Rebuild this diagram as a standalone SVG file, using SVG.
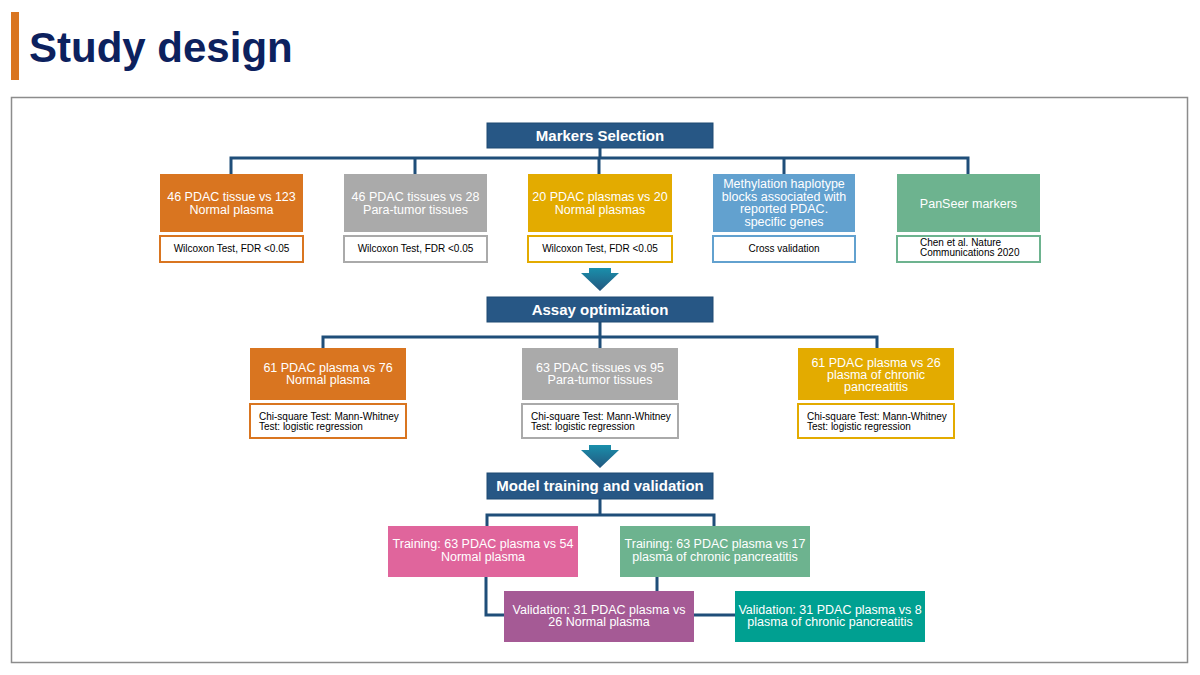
<svg xmlns="http://www.w3.org/2000/svg" width="1200" height="675" viewBox="0 0 1200 675">
<defs>
<style>
.t{font-family:"Liberation Sans",Arial,sans-serif;}
.hd{fill:#275785;stroke:#1f4a73;stroke-width:1;}
.hdt{font-family:"Liberation Sans",Arial,sans-serif;font-weight:bold;font-size:15px;fill:#fff;text-anchor:middle;}
.bt{font-family:"Liberation Sans",Arial,sans-serif;font-size:12.5px;fill:#fff;text-anchor:middle;}
.st{font-family:"Liberation Sans",Arial,sans-serif;font-size:10px;fill:#000;}
.sub{fill:#fff;stroke-width:2;}
.conn{fill:none;stroke:#1f4e79;stroke-width:3;}
</style>
<linearGradient id="ag" x1="0" y1="0" x2="0" y2="1">
<stop offset="0" stop-color="#1a8fab"/>
<stop offset="1" stop-color="#23577f"/>
</linearGradient>
</defs>
<rect width="1200" height="675" fill="#fff"/>
<g id="title">
<rect x="11" y="12" width="8" height="68" fill="#d97520"/>
<text x="29" y="62" class="t" font-size="42" font-weight="bold" fill="#0c215e">Study design</text>
</g>
<rect id="frame" x="11.5" y="97.5" width="1176" height="565" fill="none" stroke="#8c8c8c" stroke-width="1.5"/>
<g id="connectors">
<path class="conn" d="M600 148 V158 M231 174 V158 H968 V174 M415 158 V174 M599 158 V174 M784 158 V174"/>
<path class="conn" d="M600 322 V337 M323 348 V337 H877 V348 M600 337 V348"/>
<path class="conn" d="M600 499 V515 M487 526 V515 H714 V526"/>
<path class="conn" d="M486 577 V615 H504 M657 577 V591 M694 615 H735"/>
</g>
<g id="arrow1"><path d="M589 268 H611 V273 H619 L600 291 L581 273 H589 Z" fill="url(#ag)"/></g>
<g id="arrow2"><path d="M589 445 H611 V450 H619 L600 468 L581 450 H589 Z" fill="url(#ag)"/></g>
<g id="markers-selection">
<rect class="hd" x="487" y="123" width="226" height="25"/>
<text class="hdt" x="600" y="140.5">Markers Selection</text>
</g>
<g id="m1">
<rect x="160" y="174" width="143" height="58" fill="#d97520"/>
<text class="bt" x="231.5" y="200.5">46 PDAC tissue vs 123</text>
<text class="bt" x="231.5" y="213.5">Normal plasma</text>
<rect class="sub" x="160" y="236" width="143" height="26" stroke="#d97520"/>
<text class="st" x="231.5" y="252" text-anchor="middle">Wilcoxon Test, FDR &lt;0.05</text>
</g>
<g id="m2">
<rect x="344" y="174" width="143" height="58" fill="#aaaaaa"/>
<text class="bt" x="415.5" y="200.5">46 PDAC tissues vs 28</text>
<text class="bt" x="415.5" y="213.5">Para-tumor tissues</text>
<rect class="sub" x="344" y="236" width="143" height="26" stroke="#aaaaaa"/>
<text class="st" x="415.5" y="252" text-anchor="middle">Wilcoxon Test, FDR &lt;0.05</text>
</g>
<g id="m3">
<rect x="528" y="174" width="144" height="58" fill="#e3ab00"/>
<text class="bt" x="600" y="200.5">20 PDAC plasmas vs 20</text>
<text class="bt" x="600" y="213.5">Normal plasmas</text>
<rect class="sub" x="528" y="236" width="144" height="26" stroke="#e3ab00"/>
<text class="st" x="600" y="252" text-anchor="middle">Wilcoxon Test, FDR &lt;0.05</text>
</g>
<g id="m4">
<rect x="713" y="174" width="142" height="58" fill="#62a1cf"/>
<text class="bt" x="784" y="188">Methylation haplotype</text>
<text class="bt" x="784" y="200.5">blocks associated with</text>
<text class="bt" x="784" y="213">reported PDAC.</text>
<text class="bt" x="784" y="225.5">specific genes</text>
<rect class="sub" x="713" y="236" width="142" height="26" stroke="#62a1cf"/>
<text class="st" x="784" y="252" text-anchor="middle">Cross validation</text>
</g>
<g id="m5">
<rect x="897" y="174" width="143" height="58" fill="#6db38f"/>
<text class="bt" x="968.5" y="207.5">PanSeer markers</text>
<rect class="sub" x="897" y="236" width="143" height="26" stroke="#6db38f"/>
<text class="st" x="920" y="246">Chen et al. Nature</text>
<text class="st" x="920" y="256">Communications 2020</text>
</g>
<g id="assay-optimization">
<rect class="hd" x="487" y="297" width="226" height="25"/>
<text class="hdt" x="600" y="314.5">Assay optimization</text>
</g>
<g id="a1">
<rect x="250" y="348" width="156" height="52" fill="#d97520"/>
<text class="bt" x="328" y="372">61 PDAC plasma vs 76</text>
<text class="bt" x="328" y="384">Normal plasma</text>
<rect class="sub" x="250" y="404" width="156" height="34" stroke="#d97520"/>
<text class="st" x="259" y="419.5">Chi-square Test: Mann-Whitney</text>
<text class="st" x="259" y="429.5">Test: logistic regression</text>
</g>
<g id="a2">
<rect x="522" y="348" width="156" height="52" fill="#aaaaaa"/>
<text class="bt" x="600" y="372">63 PDAC tissues vs 95</text>
<text class="bt" x="600" y="384">Para-tumor tissues</text>
<rect class="sub" x="522" y="404" width="156" height="34" stroke="#aaaaaa"/>
<text class="st" x="531" y="419.5">Chi-square Test: Mann-Whitney</text>
<text class="st" x="531" y="429.5">Test: logistic regression</text>
</g>
<g id="a3">
<rect x="798" y="348" width="156" height="52" fill="#e3ab00"/>
<text class="bt" x="876" y="367">61 PDAC plasma vs 26</text>
<text class="bt" x="876" y="379">plasma of chronic</text>
<text class="bt" x="876" y="391">pancreatitis</text>
<rect class="sub" x="798" y="404" width="156" height="34" stroke="#e3ab00"/>
<text class="st" x="807" y="419.5">Chi-square Test: Mann-Whitney</text>
<text class="st" x="807" y="429.5">Test: logistic regression</text>
</g>
<g id="model-training">
<rect class="hd" x="487" y="473" width="226" height="26"/>
<text class="hdt" x="600" y="491">Model training and validation</text>
</g>
<g id="t1">
<rect x="388" y="526" width="190" height="51" fill="#e0659c"/>
<text class="bt" x="483" y="548">Training: 63 PDAC plasma vs 54</text>
<text class="bt" x="483" y="561">Normal plasma</text>
</g>
<g id="t2">
<rect x="620" y="526" width="190" height="51" fill="#6db38f"/>
<text class="bt" x="715" y="548">Training: 63 PDAC plasma vs 17</text>
<text class="bt" x="715" y="561">plasma of chronic pancreatitis</text>
</g>
<g id="v1">
<rect x="504" y="591" width="190" height="51" fill="#a55a95"/>
<text class="bt" x="599" y="614">Validation: 31 PDAC plasma vs</text>
<text class="bt" x="599" y="626">26 Normal plasma</text>
</g>
<g id="v2">
<rect x="735" y="591" width="190" height="51" fill="#00a091"/>
<text class="bt" x="830" y="614">Validation: 31 PDAC plasma vs 8</text>
<text class="bt" x="830" y="626">plasma of chronic pancreatitis</text>
</g>
</svg>
